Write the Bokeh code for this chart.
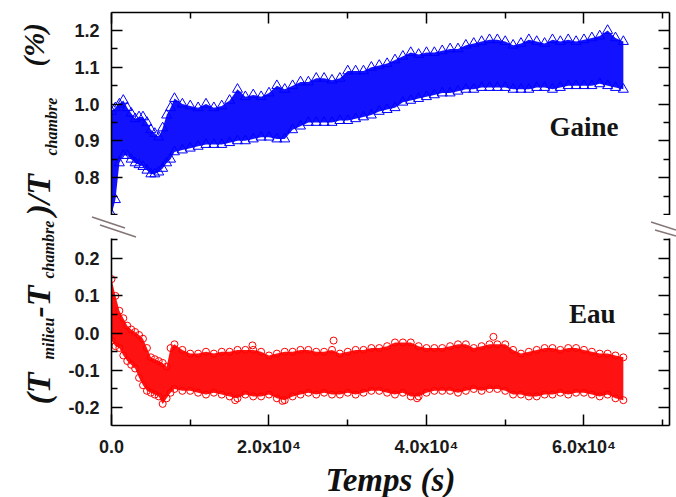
import math
from bokeh.plotting import figure
from bokeh.layouts import row, column
from bokeh.models import Range1d, LinearAxis, FixedTicker, PrintfTickFormatter, Label, Div
from bokeh.embed import file_html
from bokeh.resources import INLINE

# ---------------- data ----------------
# time (s)
temps = [0, 500, 1000, 1500, 2000, 2500, 3000, 3500, 4000, 4500,
         5000, 5500, 6000, 6500, 7000, 7500, 8000, 9000, 10000, 11000,
         12000, 13000, 14000, 15000, 16000, 17000, 18000, 19000, 20000, 21000,
         22000, 23000, 24000, 25000, 26000, 27000, 28000, 29000, 30000, 31000,
         32000, 33000, 34000, 35000, 36000, 37000, 38000, 39000, 40000, 41000,
         42000, 43000, 44000, 45000, 46000, 47000, 48000, 49000, 50000, 51000,
         52000, 53000, 54000, 55000, 56000, 57000, 58000, 59000, 60000, 61000,
         62000, 63000, 64000, 65000]

# "Gaine" (blue triangles): upper and lower edge of the scatter cloud (%)
gaine_haut = [0.98, 0.99, 1.00, 1.01, 0.99, 0.975, 0.96, 0.965, 0.965, 0.95,
              0.93, 0.92, 0.91, 0.935, 0.97, 0.99, 1.015, 1.00, 0.995, 0.99,
              1.00, 0.99, 0.995, 1.01, 1.04, 1.02, 1.025, 1.02, 1.03, 1.05,
              1.04, 1.05, 1.06, 1.06, 1.07, 1.07, 1.065, 1.07, 1.09, 1.09,
              1.09, 1.10, 1.105, 1.11, 1.12, 1.13, 1.14, 1.135, 1.14, 1.14,
              1.145, 1.15, 1.15, 1.16, 1.165, 1.17, 1.175, 1.175, 1.17, 1.16,
              1.165, 1.175, 1.17, 1.165, 1.175, 1.17, 1.175, 1.17, 1.175, 1.18,
              1.185, 1.20, 1.18, 1.17]
gaine_bas = [0.70, 0.74, 0.84, 0.86, 0.86, 0.85, 0.84, 0.835, 0.83, 0.82,
             0.81, 0.81, 0.815, 0.825, 0.84, 0.85, 0.87, 0.875, 0.88, 0.885,
             0.89, 0.89, 0.89, 0.895, 0.90, 0.90, 0.905, 0.91, 0.91, 0.905,
             0.905, 0.93, 0.94, 0.95, 0.95, 0.95, 0.95, 0.955, 0.955, 0.96,
             0.965, 0.97, 0.98, 0.985, 0.99, 1.005, 1.01, 1.015, 1.02, 1.025,
             1.03, 1.03, 1.035, 1.04, 1.04, 1.045, 1.045, 1.045, 1.045, 1.04,
             1.04, 1.04, 1.045, 1.045, 1.04, 1.045, 1.05, 1.05, 1.05, 1.05,
             1.055, 1.05, 1.045, 1.04]

# "Eau" (red circles): upper and lower edge of the scatter cloud (%)
eau_haut = [0.145, 0.10, 0.06, 0.04, 0.02, 0.01, 0.003, -0.005, -0.015, -0.04,
            -0.065, -0.07, -0.075, -0.08, -0.09, -0.04, -0.03, -0.045, -0.055, -0.055,
            -0.05, -0.055, -0.05, -0.05, -0.045, -0.045, -0.045, -0.05, -0.06, -0.055,
            -0.05, -0.05, -0.045, -0.045, -0.05, -0.05, -0.045, -0.055, -0.05, -0.045,
            -0.045, -0.04, -0.04, -0.035, -0.025, -0.025, -0.025, -0.035, -0.04, -0.04,
            -0.04, -0.035, -0.03, -0.03, -0.04, -0.035, -0.03, -0.03, -0.03, -0.045,
            -0.055, -0.05, -0.045, -0.04, -0.04, -0.045, -0.04, -0.04, -0.045, -0.05,
            -0.055, -0.055, -0.06, -0.065]
eau_bas = [-0.02, -0.035, -0.04, -0.06, -0.075, -0.085, -0.095, -0.12, -0.14, -0.155,
           -0.16, -0.165, -0.17, -0.19, -0.175, -0.16, -0.15, -0.155, -0.155, -0.16,
           -0.165, -0.16, -0.165, -0.17, -0.175, -0.165, -0.17, -0.17, -0.165, -0.175,
           -0.18, -0.17, -0.165, -0.16, -0.165, -0.16, -0.165, -0.165, -0.16, -0.165,
           -0.16, -0.155, -0.155, -0.16, -0.165, -0.16, -0.17, -0.17, -0.16, -0.155,
           -0.155, -0.155, -0.16, -0.155, -0.15, -0.155, -0.15, -0.15, -0.155, -0.165,
           -0.165, -0.17, -0.17, -0.165, -0.165, -0.16, -0.165, -0.16, -0.16, -0.165,
           -0.17, -0.165, -0.175, -0.18]

# isolated red points outside the dense cloud
eau_isoles_t = [15700, 17900, 21700, 28200, 38800, 48500]
eau_isoles_v = [-0.18, -0.033, -0.182, -0.02, -0.175, -0.01]

# ticks
x_ticks = [0, 20000, 40000, 60000]
x_minor = [10000, 30000, 50000, 70000]
x_labels = ["0.0", "2.0x10\u2074", "4.0x10\u2074", "6.0x10\u2074"]
y_haut_ticks = [0.8, 0.9, 1.0, 1.1, 1.2]
y_haut_minor = [0.7, 0.75, 0.85, 0.95, 1.05, 1.15]
y_bas_ticks = [-0.2, -0.1, 0.0, 0.1, 0.2]
y_bas_minor = [-0.25, -0.15, -0.05, 0.05, 0.15, 0.25]

# ---------------- styling ----------------
X_MAX = 70860
SANS = "Liberation Sans"
SERIF = "Liberation Serif"
BLUE = "#0000ff"
RED = "#ff0000"
MAJ_LEN = 11
MIN_LEN = 6


def style_axis(ax):
    ax.axis_line_width = 1.6
    ax.axis_line_color = "black"
    ax.major_tick_in = MAJ_LEN
    ax.major_tick_out = 0
    ax.minor_tick_in = MIN_LEN
    ax.minor_tick_out = 0
    ax.major_tick_line_width = 1.5
    ax.minor_tick_line_width = 1.5
    ax.major_tick_line_color = "black"
    ax.minor_tick_line_color = "black"
    ax.major_label_text_font = SANS
    ax.major_label_text_font_style = "bold"
    ax.major_label_text_font_size = "18px"
    ax.major_label_text_color = "#1a1a1a"
    ax.major_label_standoff = 12


def bare_axes(p, side, majors, minors):
    """Unlabelled mirror axis: long ticks at the major positions, short ones between."""
    a1 = LinearAxis(ticker=FixedTicker(ticks=[], minor_ticks=majors))
    a2 = LinearAxis(ticker=FixedTicker(ticks=[], minor_ticks=minors))
    for a, ln in ((a1, MAJ_LEN), (a2, MIN_LEN)):
        a.major_label_standoff = 0
        a.major_tick_out = 0
        a.major_tick_in = 0
        a.minor_tick_out = 0
        a.minor_tick_in = ln
        a.minor_tick_line_width = 1.5
        a.minor_tick_line_color = "black"
        a.axis_line_width = 1.6
        a.axis_line_color = "black"
    a2.axis_line_color = None
    p.add_layout(a1, side)
    p.add_layout(a2, side)


def base_fig(**kw):
    p = figure(toolbar_location=None, output_backend="svg", **kw)
    p.outline_line_color = None
    p.background_fill_color = "white"
    p.border_fill_color = "white"
    for g in p.grid:
        g.visible = False
    return p


x_override = {t: s for t, s in zip(x_ticks, x_labels)}

# ---- top panel (Gaine) ----
top = base_fig(frame_width=558, frame_height=203,
               x_range=Range1d(0, X_MAX), y_range=Range1d(0.697, 1.249),
               x_axis_location=None, y_axis_location="left",
               min_border_left=51, min_border_right=7,
               min_border_top=12, min_border_bottom=0)
top.yaxis.ticker = FixedTicker(ticks=y_haut_ticks, minor_ticks=y_haut_minor)
top.yaxis.formatter = PrintfTickFormatter(format="%.1f")
style_axis(top.yaxis[0])
bare_axes(top, "above", x_ticks, x_minor)
bare_axes(top, "right", y_haut_ticks, y_haut_minor)

top.varea(x=temps, y1=gaine_bas, y2=gaine_haut, fill_color=BLUE, fill_alpha=0.93)
top.scatter(x=temps, y=gaine_haut, marker="triangle", size=10,
            fill_color=None, line_color=BLUE, line_width=1)
top.scatter(x=temps, y=gaine_bas, marker="triangle", size=10,
            fill_color=None, line_color=BLUE, line_width=1)
top.add_layout(Label(x=64380, y=0.939, text="Gaine", text_align="right",
                     text_baseline="alphabetic", text_font=SERIF,
                     text_font_style="bold", text_font_size="27px",
                     text_color="#141414"))

# ---- gap between the panels with the axis-break marks ----
brk_svg = ('<svg xmlns="http://www.w3.org/2000/svg" width="616" height="23" '
           'style="display:block">'
           '<g stroke="#857676" stroke-width="1.5" fill="none">'
           '<line x1="32" y1="2" x2="65" y2="13"/>'
           '<line x1="40" y1="10" x2="76" y2="22"/>'
           '<line x1="591" y1="7" x2="616" y2="15"/>'
           '<line x1="595" y1="15" x2="616" y2="21"/>'
           '</g></svg>')
brk = Div(text=brk_svg, width=616, height=23, margin=(0, 0, 0, 0))

# ---- bottom panel (Eau) ----
bot = base_fig(frame_width=558, frame_height=187,
               x_range=Range1d(0, X_MAX), y_range=Range1d(-0.248, 0.254),
               x_axis_location="below", y_axis_location="left",
               min_border_left=51, min_border_right=7,
               min_border_top=0, min_border_bottom=72)
bot.xaxis.ticker = FixedTicker(ticks=x_ticks, minor_ticks=x_minor)
bot.xaxis.major_label_overrides = x_override
style_axis(bot.xaxis[0])
bot.xaxis.major_label_standoff = 11
bot.xaxis.axis_label = "Temps (s)"
bot.xaxis.axis_label_text_font = SERIF
bot.xaxis.axis_label_text_font_style = "bold italic"
bot.xaxis.axis_label_text_font_size = "33px"
bot.xaxis.axis_label_text_color = "#111111"
bot.xaxis.axis_label_standoff = 2
bot.yaxis.ticker = FixedTicker(ticks=y_bas_ticks, minor_ticks=y_bas_minor)
bot.yaxis.formatter = PrintfTickFormatter(format="%.1f")
style_axis(bot.yaxis[0])
bare_axes(bot, "right", y_bas_ticks, y_bas_minor)

bot.varea(x=temps, y1=eau_bas, y2=eau_haut, fill_color=RED, fill_alpha=0.93)
bot.scatter(x=temps, y=eau_haut, marker="circle", size=7,
            fill_color=None, line_color=RED, line_width=1)
bot.scatter(x=temps, y=eau_bas, marker="circle", size=7,
            fill_color=None, line_color=RED, line_width=1)
bot.scatter(x=eau_isoles_t, y=eau_isoles_v, marker="circle", size=7,
            fill_color=None, line_color=RED, line_width=1)
bot.add_layout(Label(x=64000, y=0.052, text="Eau", text_align="right",
                     text_baseline="alphabetic", text_font=SERIF,
                     text_font_style="bold", text_font_size="27px",
                     text_color="#141414"))

# ---- left strip with the shared y-axis title ----
lab = base_fig(frame_width=60, frame_height=497,
               x_range=Range1d(0, 60), y_range=Range1d(0, 497),
               x_axis_location=None, y_axis_location=None, min_border=0)
pieces = [("(T", 404, 38, "34px"),
          ("milieu", 359, 48, "16px"),
          ("-T", 317, 38, "34px"),
          ("chambre", 278, 48, "16px"),
          (")/T", 215, 38, "34px"),
          ("chambre", 155, 51, "16px"),
          ("(%)", 66, 33, "29px")]
for txt, py, px, fs in pieces:
    lab.add_layout(Label(x=px, y=497 - py, text=txt, angle=math.pi / 2,
                         text_align="left", text_baseline="alphabetic",
                         text_font=SERIF, text_font_style="bold italic",
                         text_font_size=fs, text_color="#111111"))

layout = row(lab, column(top, brk, bot, spacing=0), spacing=0)

open("out.html", "w").write(file_html(layout, INLINE, title="Gaine / Eau"))
